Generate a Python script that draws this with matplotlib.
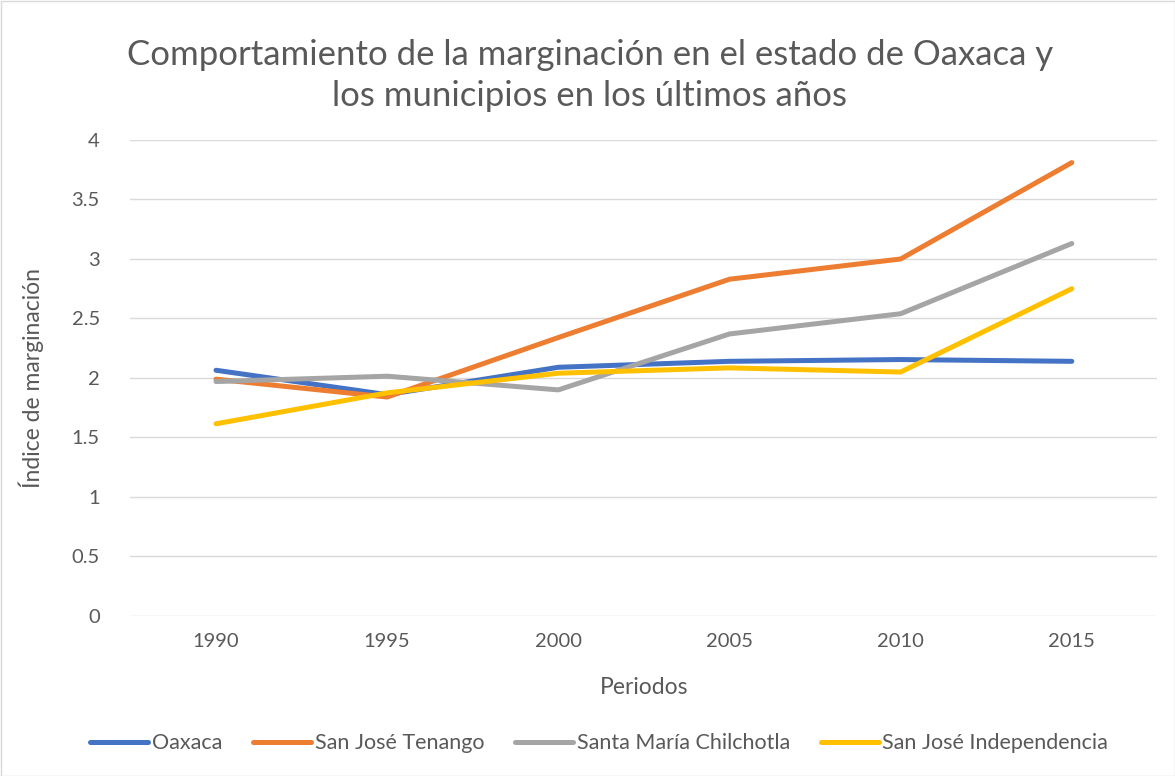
import matplotlib
matplotlib.use("Agg")
import matplotlib.pyplot as plt
from matplotlib.patches import Rectangle

years = ["1990", "1995", "2000", "2005", "2010", "2015"]
series_names = ["Oaxaca", "San José Tenango", "Santa María Chilchotla", "San José Independencia"]
oaxaca = [2.065, 1.86, 2.09, 2.14, 2.155, 2.14]
tenango = [1.99, 1.84, 2.34, 2.83, 3.00, 3.81]
chilchotla = [1.97, 2.015, 1.90, 2.37, 2.54, 3.13]
independencia = [1.615, 1.875, 2.04, 2.085, 2.05, 2.75]
colors = ["#4472C4", "#ED7D31", "#A5A5A5", "#FFC000"]
yticks = [0, 0.5, 1, 1.5, 2, 2.5, 3, 3.5, 4]
ytick_labels = ["0", "0.5", "1", "1.5", "2", "2.5", "3", "3.5", "4"]

plt.rcParams['font.family'] = ['Lato', 'DejaVu Sans']
txt = "#595959"

fig = plt.figure(figsize=(11.75, 7.76), dpi=100)
ax = fig.add_axes([0.111, 0.2062, 0.874, 0.6134])

x = list(range(len(years)))
for name, vals, c in zip(series_names, [oaxaca, tenango, chilchotla, independencia], colors):
    ax.plot(x, vals, color=c, lw=3.6, label=name, solid_capstyle='round', solid_joinstyle='round')

ax.set_xlim(-0.5, len(years) - 0.5)
ax.set_ylim(0, 4)
ax.set_yticks(yticks)
ax.set_yticklabels(ytick_labels)
ax.set_xticks(x)
ax.set_xticklabels(years)
ax.grid(axis='y', color='#d9d9d9', lw=1)
ax.set_axisbelow(True)
for s in ax.spines.values():
    s.set_visible(False)
ax.tick_params(length=0, labelsize=14.5, colors=txt)
ax.tick_params(axis='x', pad=12)
ax.tick_params(axis='y', pad=22)
ax.set_xlabel("Periodos", fontsize=16.5, color=txt, labelpad=20)
ax.set_ylabel("Índice de marginación", fontsize=16.5, color=txt, labelpad=20)

fig.text(0.502, 0.903, "Comportamiento de la marginación en el estado de Oaxaca y\nlos municipios en los últimos años",
         ha='center', va='center', fontsize=25, color=txt, linespacing=1.35)

leg = fig.legend(loc='center', bbox_to_anchor=(0.51, 0.042), ncol=4, frameon=False,
                 fontsize=15.5, handlelength=2.7, columnspacing=1.45, handletextpad=0.15)
for t in leg.get_texts():
    t.set_color(txt)

fig.patches.append(Rectangle((0.5 / 1175, 0.5 / 776), 1 - 1 / 1175, 1 - 1 / 776, transform=fig.transFigure,
                             fill=False, edgecolor='#d9d9d9', lw=1))

fig.savefig("out.png", dpi=100)
